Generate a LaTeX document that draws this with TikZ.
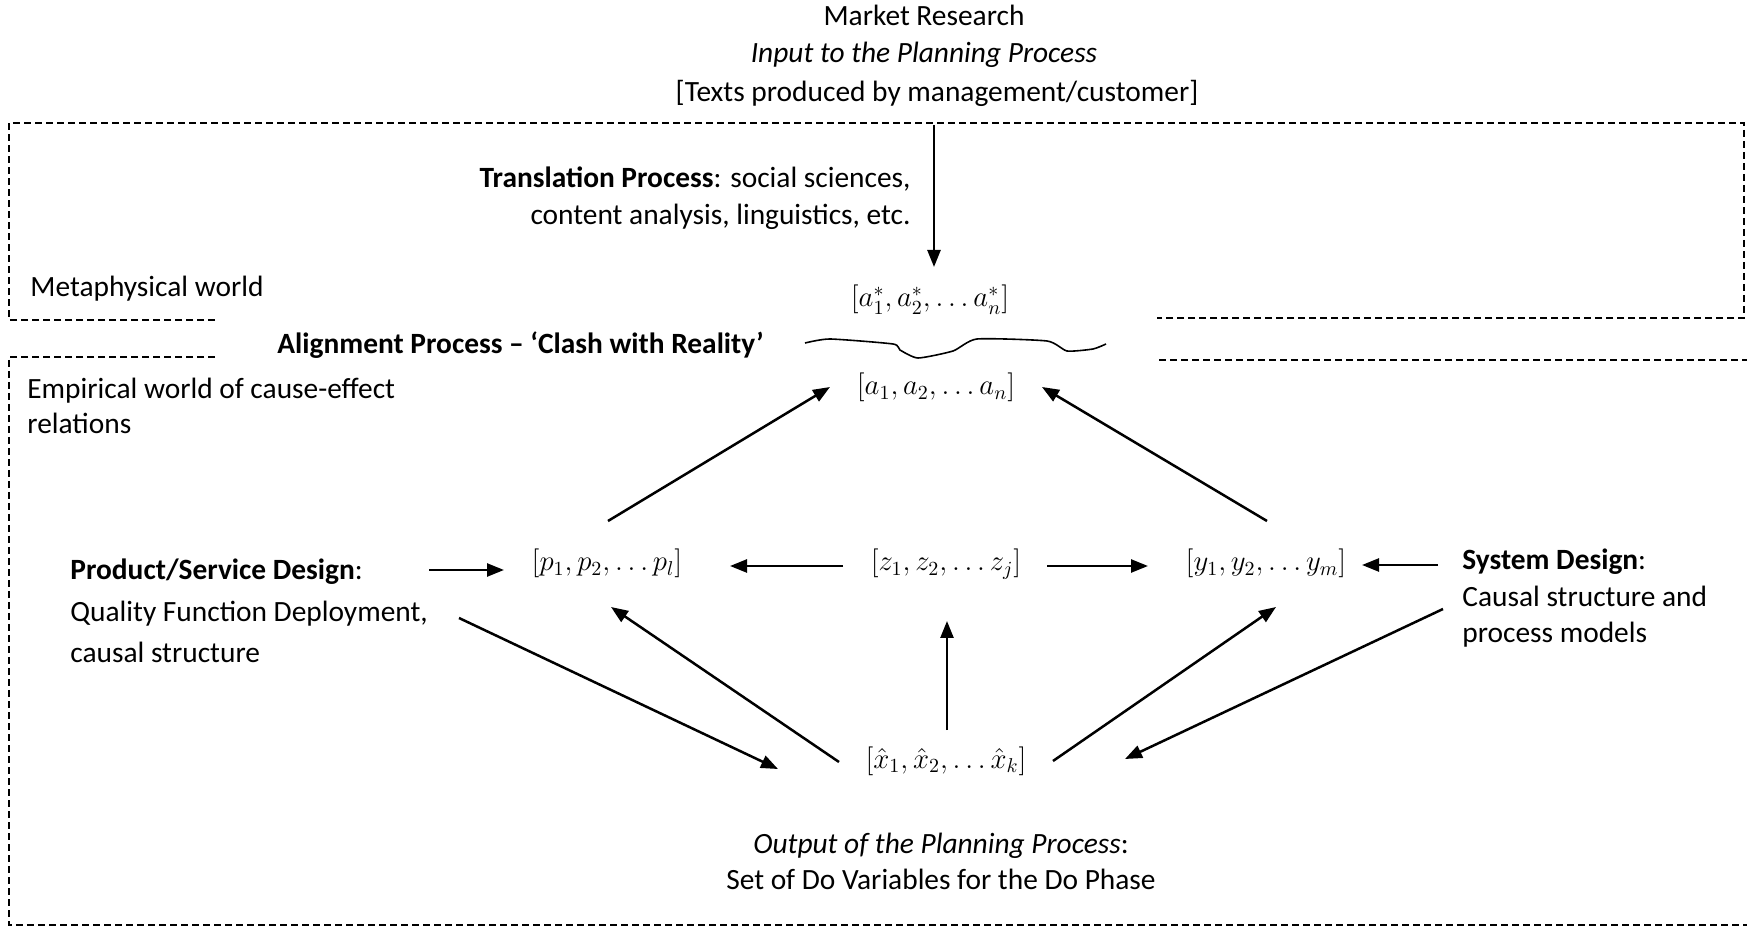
\documentclass[tikz,border=0pt]{standalone}
\usepackage{fontspec}
\setmainfont{Carlito}
\usetikzlibrary{arrows.meta}
\begin{document}
\begin{tikzpicture}[x=0.5pt,y=-0.5pt,
  txt/.style={inner sep=0pt, font=\fontsize{14.7}{17}\selectfont, text height=0.7em, text depth=0.2em, yshift=-2.5pt},
  mth/.style={inner sep=0pt, font=\fontsize{14}{17}\selectfont, text height=0.7em, text depth=0.2em},
  arr/.style={line width=1.25pt, -{Triangle[length=8.5pt,width=6.5pt]}},
  frame/.style={line width=0.6pt, dash pattern=on 3.5pt off 2pt}]
\useasboundingbox (0,0) rectangle (1747,930);

% frames
\draw[frame] (215,320) -- (9,320) -- (9,123) -- (1744,123) -- (1744,318) -- (1157,318);
\draw[frame] (215,357) -- (9,357) -- (9,925) -- (1747,925);
\draw[frame] (1159,360) -- (1747,360);

% top texts
\node[txt] (mr) at (924,16) {Market Research};
\node[txt] (inp) at (924,53) {\itshape Input to the Planning Process};
\node[txt] (texts) at (937,92) {[Texts produced by management/customer]};

\node[txt, anchor=east] (tr1) at (911,178) {\textbf{Translation Process}: social sciences,};
\node[txt, anchor=east] (tr2) at (911,215) {content analysis, linguistics, etc.};

\node[txt, anchor=west] (meta) at (30,287) {Metaphysical world};
\node[txt, anchor=west] (align) at (277,344) {\textbf{Alignment Process – ‘Clash with Reality’}};
\node[txt, anchor=west] (emp1) at (27,389) {Empirical world of cause-effect};
\node[txt, anchor=west] (emp2) at (27,424) {relations};

\node[txt, anchor=west] (psd1) at (70,570) {\textbf{Product/Service Design}:};
\node[txt, anchor=west] (psd2) at (70,612) {Quality Function Deployment,};
\node[txt, anchor=west] (psd3) at (70,652) {causal structure};

\node[txt, anchor=west] (sd1) at (1462,560) {\textbf{System Design}:};
\node[txt, anchor=west] (sd2) at (1462,597) {Causal structure and};
\node[txt, anchor=west] (sd3) at (1462,633) {process models};

\node[txt] (out1) at (941,843) {\itshape Output of the Planning Process\upshape:};
\node[txt] (out2) at (941,879) {Set of Do Variables for the Do Phase};

% math nodes
\node[mth] (astar) at (930,302) {$[a^*_1, a^*_2, \ldots a^*_n]$};
\node[mth] (a) at (936,390) {$[a_1, a_2, \ldots a_n]$};
\node[mth] (p) at (607,566) {$[p_1, p_2, \ldots p_l]$};
\node[mth] (z) at (946,566) {$[z_1, z_2, \ldots z_j]$};
\node[mth] (y) at (1266,566) {$[y_1, y_2, \ldots y_m]$};
\node[mth] (x) at (946,763) {$[\hat{x}_1, \hat{x}_2, \ldots \hat{x}_k]$};

% brace (clash)
\draw[line width=0.8pt, line join=round] plot[smooth, tension=0.35] coordinates
 {(805,343) (830,339) (893,344) (900,350) (918,358) (953,351) (977,339) (1047,341) (1067,351) (1093,349) (1106,344)};

% connector end points
\coordinate (texts-s) at (934,125);
\coordinate (astar-n) at (934,267);
\coordinate (p-ne) at (608,521);
\coordinate (a-w) at (830,387);
\coordinate (y-nw) at (1267,521);
\coordinate (a-e) at (1042,387);
\coordinate (psd-e) at (429,570);
\coordinate (p-w) at (504,570);
\coordinate (z-w) at (843,566);
\coordinate (p-e) at (730,566);
\coordinate (z-e) at (1047,566);
\coordinate (y-w) at (1148,566);
\coordinate (sd-w) at (1438,565);
\coordinate (y-e) at (1362,565);
\coordinate (psd-se) at (459,618);
\coordinate (x-w) at (778,769);
\coordinate (x-nw) at (839,762);
\coordinate (p-s) at (611,607);
\coordinate (x-n) at (947,730);
\coordinate (z-s) at (947,621);
\coordinate (x-ne) at (1053,761);
\coordinate (y-s) at (1276,607);
\coordinate (sd-sw) at (1443,609);
\coordinate (x-e) at (1125,759);

\draw[arr] (texts-s) -- (astar-n);
\draw[arr] (p-ne) -- (a-w);
\draw[arr] (y-nw) -- (a-e);
\draw[arr] (psd-e) -- (p-w);
\draw[arr] (z-w) -- (p-e);
\draw[arr] (z-e) -- (y-w);
\draw[arr] (sd-w) -- (y-e);
\draw[arr] (psd-se) -- (x-w);
\draw[arr] (x-nw) -- (p-s);
\draw[arr] (x-n) -- (z-s);
\draw[arr] (x-ne) -- (y-s);
\draw[arr] (sd-sw) -- (x-e);
\end{tikzpicture}
\end{document}
